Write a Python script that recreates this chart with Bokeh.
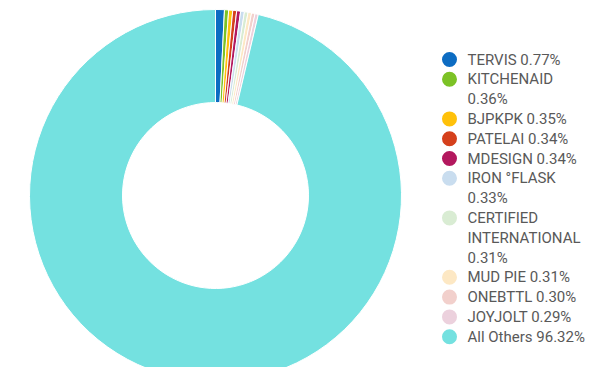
import math
from bokeh.plotting import figure
from bokeh.models import Range1d, ColumnDataSource
from bokeh.core.properties import value
from bokeh.embed import file_html
from bokeh.resources import INLINE

# ---- data ----
brands = ["TERVIS", "KITCHENAID", "BJPKPK", "PATELAI", "MDESIGN", "IRON °FLASK",
          "CERTIFIED INTERNATIONAL", "MUD PIE", "ONEBTTL", "JOYJOLT", "All Others"]
shares = [0.77, 0.36, 0.35, 0.34, 0.34, 0.33, 0.31, 0.31, 0.30, 0.29, 96.32]
legend_labels = ["TERVIS 0.77%", "KITCHENAID\n0.36%", "BJPKPK 0.35%", "PATELAI 0.34%",
                 "MDESIGN 0.34%", "IRON °FLASK\n0.33%", "CERTIFIED\nINTERNATIONAL\n0.31%",
                 "MUD PIE 0.31%", "ONEBTTL 0.30%", "JOYJOLT 0.29%", "All Others 96.32%"]
colors = ["#0d6cc2", "#7cc226", "#ffc10a", "#d5401c", "#b3185e", "#c9ddef",
          "#d9ecd3", "#fde8c4", "#f2d0cc", "#ecd1dd", "#74e1e0"]

# ---- layout (picture pixels -> figure data) ----
W, H = 587, 367
def fx(px):
    return px
def fy(py):
    return H - py

cx, cy = 215, 195
r_out, r_in = 186, 93

total = sum(shares)
starts, ends = [], []
acc = 0.0
for s in shares:
    a0 = acc / total
    acc += s
    a1 = acc / total
    starts.append(math.pi / 2 - a1 * 2 * math.pi)
    ends.append(math.pi / 2 - a0 * 2 * math.pi)

p = figure(width=W, height=H, output_backend="svg", toolbar_location=None,
           x_range=Range1d(0, W), y_range=Range1d(0, H), min_border=0)
p.axis.visible = False
p.grid.visible = False
p.outline_line_color = None
p.background_fill_color = "white"

src = ColumnDataSource(dict(start=starts, end=ends, color=colors, brand=brands))
p.annular_wedge(x=fx(cx), y=fy(cy), inner_radius=r_in, outer_radius=r_out,
                start_angle="start", end_angle="end", fill_color="color",
                line_color="white", line_width=1, source=src)

# legend
step = 19.8
y0 = 59
line_idx = 0
mx, my, tx, ty, tt = [], [], [], [], []
for lab, col in zip(legend_labels, colors):
    lines = lab.split("\n")
    mx.append(fx(449)); my.append(fy(y0 + step * line_idx))
    for ln in lines:
        tx.append(fx(467)); ty.append(fy(y0 + step * line_idx)); tt.append(ln)
        line_idx += 1

p.scatter(x=mx, y=my, size=15, marker="circle", fill_color=colors, line_color=None)
p.text(x=tx, y=ty, text=tt, text_font=value("Roboto"), text_font_size="15px",
       text_color="#595959", text_baseline="middle", text_align="left")

open("out.html", "w").write(file_html(p, INLINE))
